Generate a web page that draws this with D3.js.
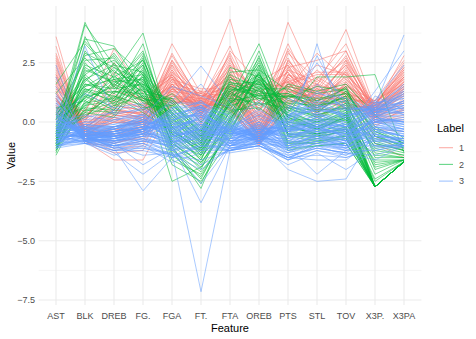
<!DOCTYPE html>
<html lang="en">
<head>
<meta charset="UTF-8">
<script src="https://d3js.org/d3.v7.min.js"></script>
<title>Parallel coordinates</title>
<style>
  body { margin: 0; background: #fff; }
  text { font-family: "Liberation Sans", Arial, sans-serif; }
  .tick-label { fill: #4d4d4d; font-size: 9px; }
  .axis-title { fill: #000; font-size: 11px; }
</style>
</head>
<body>
<svg id="chart" width="476" height="339"></svg>
<script>
// standardized player stats, one row per player, columns follow `features`
const features = ["AST","BLK","DREB","FG.","FGA","FT.","FTA","OREB","PTS","STL","TOV","X3P.","X3PA"];
const labels = ["1","2","3"];
const colors = ["#F8766D","#00BA38","#619CFF"];
const yTicks = [-7.5,-5,-2.5,0,2.5];
const yMinor = [-6.25,-3.75,-1.25,1.25,3.75];

const cluster1 = [
  [3.6,-0.6,0.2,-0.3,2.6,1.0,2.8,-0.5,2.9,1.8,3.3,0.5,2.2],
  [3.2,-0.8,-0.4,0.1,2.2,0.8,2.0,-0.7,2.3,2.6,3.0,0.3,1.6],
  [2.9,-0.4,0.5,0.4,3.3,1.2,4.33,0.2,4.2,1.5,3.9,0.6,2.8],
  [2.5,-0.5,0.1,-0.2,2.0,0.6,1.6,-0.4,2.0,1.2,2.4,0.4,1.9],
  [2.2,-0.3,0.8,0.3,2.8,0.9,3.2,0.4,3.3,0.8,2.6,0.2,1.4],
  [1.9,-0.7,-0.9,-0.6,1.5,1.1,1.0,-0.9,1.4,2.9,1.8,0.7,2.4],
  [1.7,0.2,1.5,0.6,2.4,0.4,2.6,1.1,2.7,0.6,2.0,-0.2,0.6],
  [1.6,-0.6,-0.2,0.0,1.8,1.4,1.4,-0.6,1.9,1.1,1.5,0.9,2.6],
  [1.4,0.4,3.1,1.2,2.0,0.2,3.0,1.7,2.4,0.4,2.2,0.0,0.3],
  [1.3,-0.9,-1.0,-0.8,1.2,0.7,0.8,-1.0,1.1,1.6,1.2,0.8,2.0],
  [1.2,-0.2,0.4,0.2,1.6,0.5,1.3,0.0,1.6,0.9,1.4,0.5,1.3],
  [1.1,0.0,2.5,0.9,1.9,0.1,2.2,1.4,2.1,0.3,1.7,0.1,0.4],
  [1.0,-0.7,-1.2,-1.0,1.0,0.9,0.6,-0.8,0.9,2.2,1.1,0.6,1.7],
  [0.9,-0.4,0.0,-0.1,1.4,0.6,1.1,-0.3,1.4,1.0,1.0,0.4,1.5],
  [0.8,0.3,1.2,0.5,2.2,0.3,1.9,0.8,2.3,0.5,1.6,0.2,0.9],
  [0.7,-0.8,-1.6,-1.6,0.7,1.3,0.5,-0.9,0.7,1.4,0.9,0.8,1.8],
  [0.6,-0.2,0.6,0.3,1.7,0.8,1.7,0.3,1.8,0.7,1.3,0.3,1.1],
  [0.5,-0.5,-0.6,-0.4,1.1,1.0,0.9,-0.6,1.2,1.9,1.2,0.9,2.1],
  [0.4,0.1,1.8,0.8,1.3,-0.2,1.5,1.6,1.5,0.2,1.0,-0.9,-1.5],
  [0.3,-0.6,-0.3,-0.2,1.0,0.7,0.7,-0.5,1.0,1.2,0.8,0.5,1.2],
  [0.2,-0.3,0.3,0.1,0.9,0.4,0.9,0.1,0.9,0.9,0.7,0.3,0.8],
  [2.7,-0.6,0.3,0.2,2.5,0.9,2.4,-0.2,2.6,1.3,2.8,0.4,1.7],
  [2.0,-0.5,-0.5,-0.5,1.7,1.2,1.8,-0.7,1.7,2.1,2.1,0.6,2.3],
  [1.5,0.1,0.9,0.4,2.6,0.5,2.9,0.5,3.0,0.8,2.3,0.1,1.0],
  [0.1,-0.1,0.7,0.5,1.4,0.2,1.2,0.6,1.5,0.3,0.6,0.2,0.5],
  [-0.3,-0.7,-0.8,-0.7,0.8,0.9,0.4,-0.8,0.6,1.6,0.5,0.7,1.4],
  [1.8,-0.4,0.0,0.0,1.3,0.6,1.2,-0.4,1.3,1.0,1.9,0.4,1.1],
  [2.4,-0.8,-0.7,-0.3,2.1,1.1,1.5,-0.8,2.2,1.7,2.6,0.7,2.5],
  [1.1,0.2,1.3,1.0,1.9,-0.1,2.4,1.2,2.1,0.5,1.5,-0.6,-1.2],
  [0.6,-0.6,-1.1,-0.9,0.9,0.8,0.7,-0.9,0.8,1.3,0.9,0.9,1.6],
  [1.4,-0.3,0.2,-0.1,1.6,0.7,1.6,-0.2,1.7,1.1,1.8,0.3,1.3],
  [0.9,-0.1,0.5,0.3,1.2,0.4,1.0,0.2,1.1,0.6,1.1,0.2,0.7],
  [2.1,-0.5,0.6,0.1,2.9,0.8,2.7,-0.1,3.1,1.4,3.0,0.5,2.0],
  [0.4,-0.4,-0.4,-0.3,0.9,0.6,0.6,-0.5,0.9,0.8,0.7,0.6,1.5],
  [1.6,0.0,0.4,0.2,1.5,0.9,1.3,0.0,1.6,0.7,1.6,0.2,0.8],
  [0.7,-0.2,1.0,0.6,1.8,0.3,2.0,0.9,1.9,0.4,1.3,0.0,0.2],
  [2.3,-0.7,-0.3,-0.4,1.4,1.2,1.1,-0.6,1.4,2.4,2.0,0.8,2.2],
  [1.2,-0.5,-0.6,-0.2,1.1,0.6,0.9,-0.7,1.1,1.5,1.4,0.5,1.9],
  [0.3,0.5,2.1,0.7,1.5,0.0,1.8,1.3,1.7,0.1,0.9,-0.3,-0.4],
  [1.0,-0.3,0.1,0.0,1.2,0.5,1.4,-0.3,1.3,0.9,1.2,0.4,1.2],
  [1.3,-0.4,0.3,0.1,1.9,0.9,1.7,-0.2,2.0,1.2,1.7,0.4,1.6],
  [0.8,-0.6,-0.5,-0.3,1.3,1.1,1.2,-0.6,1.3,1.4,1.2,0.6,1.9],
  [2.6,-0.3,0.7,0.5,2.3,0.7,2.1,0.1,2.5,1.0,2.5,0.3,1.5],
  [0.5,0.0,0.9,0.6,1.6,0.4,1.6,0.7,1.8,0.6,1.1,0.1,0.6],
  [1.9,-0.7,-0.8,-0.5,1.6,1.3,1.3,-0.8,1.6,2.0,2.0,0.7,2.3],
  [0.2,-0.5,-0.2,0.0,1.1,0.8,1.0,-0.4,1.1,1.1,0.8,0.5,1.4],
  [1.7,-0.2,0.5,0.3,2.0,0.6,2.3,0.2,2.2,0.9,2.1,0.2,1.2],
  [0.6,0.2,1.6,0.9,1.5,0.1,1.9,1.1,1.7,0.4,1.2,-0.1,0.1],
  [1.0,-0.8,-1.3,-1.2,0.8,1.0,0.6,-1.0,0.7,1.8,1.0,0.8,1.9],
  [2.8,-0.5,0.0,-0.1,1.8,1.0,2.0,-0.5,2.0,1.6,2.7,0.5,1.8],
  [0.0,-0.3,0.4,0.4,1.0,0.5,1.1,0.3,1.2,0.5,0.6,0.4,0.9],
  [1.5,-0.6,-0.4,-0.2,1.4,0.8,1.5,-0.5,1.5,1.3,1.6,0.6,1.7],
  [0.9,0.1,1.1,0.7,2.1,0.3,2.5,0.8,2.4,0.7,1.5,0.0,0.5],
  [2.0,-0.4,0.2,0.0,2.4,1.0,2.2,-0.3,2.6,1.1,2.4,0.5,2.1],
  [0.4,-0.6,-0.9,-0.6,0.7,1.2,0.5,-0.7,0.6,1.0,0.6,0.7,1.3]
];

const cluster2 = [
  [-0.3,4.2,1.8,1.5,0.2,-1.2,1.3,2.0,0.6,0.1,0.8,-2.73,-1.67],
  [-0.6,4.1,2.4,2.1,0.6,-0.9,1.8,1.6,1.0,0.5,1.1,-2.73,-1.67],
  [0.1,3.5,3.2,1.4,0.9,-0.6,2.1,2.2,1.3,0.4,1.3,-0.4,-0.9],
  [-0.9,3.3,2.0,3.75,-0.5,-1.6,1.0,3.3,0.2,-0.4,0.3,-2.73,-1.67],
  [-0.8,3.0,1.5,2.9,-0.2,-1.4,0.8,2.7,0.3,-0.2,0.4,-2.73,-1.67],
  [-0.4,2.8,3.1,2.0,0.4,-0.8,2.3,1.9,0.9,0.6,1.5,-1.5,-1.5],
  [-1.0,2.5,1.2,3.3,-0.8,-2.0,0.5,3.0,-0.2,-0.5,0.0,-2.73,-1.67],
  [-0.7,2.2,1.7,1.8,-0.1,-1.1,1.1,1.5,0.4,0.0,0.6,-1.8,-1.6],
  [0.3,2.0,2.8,1.1,0.8,-0.5,1.6,1.2,1.2,0.8,1.0,-0.6,-1.0],
  [-1.2,1.8,1.0,2.5,-1.0,-2.8,0.2,2.4,-0.5,-0.7,-0.3,-2.73,-1.67],
  [-0.5,1.6,1.4,1.6,0.1,-1.0,1.2,1.8,0.5,-0.1,0.5,-2.2,-1.6],
  [0.5,1.5,2.2,0.9,1.0,-0.3,1.9,0.9,1.5,1.2,1.4,-0.2,-0.8],
  [-1.1,1.4,0.8,2.2,-1.3,-2.6,-0.1,2.1,-0.8,-0.9,-0.5,-2.73,-1.67],
  [-0.2,1.3,1.9,1.3,0.3,-0.7,1.4,1.3,0.7,0.3,0.7,-1.2,-1.4],
  [-0.9,1.2,0.6,2.7,-0.7,-1.8,0.3,2.6,-0.1,-0.6,-0.2,-2.73,-1.67],
  [-0.6,1.1,1.3,1.2,-0.3,-1.3,0.6,1.4,0.0,-0.3,0.2,-2.5,-1.67],
  [0.0,1.0,2.5,0.8,0.5,-0.4,1.5,1.0,0.8,0.7,0.9,-0.8,-1.2],
  [-1.4,0.9,0.3,2.0,-1.6,-2.2,-0.4,1.7,-1.0,-0.8,-0.7,-2.73,-1.67],
  [-0.3,0.8,1.6,1.0,0.2,-0.9,0.9,1.1,0.4,1.9,1.9,2.0,-1.3],
  [-0.8,0.7,0.9,1.7,-0.6,-1.5,0.1,1.9,-0.3,-0.4,-0.1,-1.6,-1.6],
  [0.2,0.6,2.0,0.6,0.7,-0.2,1.2,0.7,1.1,1.0,1.2,-0.3,-0.9],
  [-1.0,0.5,0.4,1.5,-2.5,-1.9,-0.6,1.6,-1.1,-1.0,-0.9,-2.73,-1.67],
  [-0.4,0.4,1.1,0.7,-0.2,-1.0,0.4,0.8,0.1,0.1,0.1,-1.0,-1.3],
  [-0.7,0.3,0.7,1.9,-0.9,-1.7,-0.2,2.3,-0.6,-0.6,-0.4,-2.73,-1.67],
  [0.4,2.6,2.7,1.0,0.6,-0.6,1.7,1.3,1.0,1.5,1.3,-0.5,-1.1],
  [-0.5,3.6,1.4,2.4,0.0,-1.3,1.0,2.0,0.5,0.3,0.6,-2.73,-1.67],
  [-1.3,2.0,0.9,2.8,-1.1,-2.4,0.0,2.8,-0.6,-0.8,-0.6,-2.73,-1.67],
  [0.1,1.7,2.9,1.3,1.0,-0.4,2.0,1.4,1.4,0.9,1.4,-0.9,-1.2],
  [-0.2,1.4,1.1,0.4,-0.4,-1.1,0.5,0.6,-0.2,0.0,0.3,-1.9,-1.6],
  [-0.9,2.3,1.6,3.0,-0.3,-1.6,0.9,2.5,0.2,-0.3,0.2,-2.73,-1.67],
  [0.6,0.9,1.8,0.5,1.2,0.0,1.3,0.5,1.6,1.3,1.6,0.3,-0.7],
  [-0.6,0.5,0.8,1.4,-0.8,-1.4,-0.3,1.5,-0.4,-0.5,-0.3,-1.4,-1.5],
  [-1.1,1.1,0.5,2.3,-1.2,-2.1,-0.5,2.2,-0.9,-0.7,-0.6,-2.73,-1.67],
  [-0.1,2.9,2.3,1.7,0.4,-0.8,1.6,1.7,0.8,0.4,0.9,-2.0,-1.6],
  [-0.4,0.2,1.3,0.9,0.1,-0.6,0.7,1.0,0.3,-0.2,0.2,-0.7,-1.1],
  [-0.8,1.9,0.7,1.1,-0.5,-1.2,0.2,1.2,-0.1,-0.5,-0.2,-2.73,-1.67],
  [1.6,3.4,2.1,1.6,0.8,-0.7,1.4,1.1,1.1,0.7,1.0,-1.1,-1.4],
  [1.2,2.7,1.5,2.6,0.3,-1.0,0.8,1.8,0.6,0.2,0.5,-2.73,-1.67],
  [-0.7,1.5,1.8,2.0,-0.4,-1.1,0.8,1.7,0.2,-0.2,0.3,-2.73,-1.67],
  [0.2,1.2,2.3,1.2,0.9,-0.5,1.5,1.1,1.2,0.6,1.1,-0.6,-1.0],
  [-1.0,0.8,1.0,2.4,-1.0,-1.9,0.1,2.0,-0.5,-0.6,-0.4,-2.73,-1.67],
  [-0.5,2.1,2.6,1.5,0.3,-0.9,1.3,1.6,0.7,0.2,0.8,-1.3,-1.5],
  [-1.2,0.6,0.5,1.8,-1.4,-2.3,-0.3,1.8,-0.9,-0.9,-0.7,-2.73,-1.67],
  [0.0,1.0,1.5,0.9,0.4,-0.6,1.0,0.8,0.6,0.5,0.6,-0.9,-1.2],
  [-0.6,2.4,1.9,2.6,-0.2,-1.4,0.7,2.4,0.1,-0.3,0.1,-2.73,-1.67],
  [-0.3,0.7,1.7,1.1,0.0,-0.8,0.8,1.2,0.3,0.0,0.4,-1.7,-1.6],
  [-0.9,1.3,0.9,2.1,-0.9,-1.7,0.0,2.1,-0.5,-0.5,-0.3,-2.73,-1.67],
  [0.3,1.8,2.4,1.0,0.7,-0.4,1.7,1.0,1.1,0.9,1.2,-0.4,-0.9],
  [-0.4,1.6,1.2,1.9,-0.5,-1.2,0.4,1.9,0.0,-0.2,0.1,-2.4,-1.67],
  [-1.1,0.4,0.2,1.6,-1.8,-2.5,-0.7,1.4,-1.2,-1.0,-0.9,-2.73,-1.67]
];

const cluster3 = [
  [-0.2,-0.5,-0.6,-0.3,-0.5,0.2,-0.7,-0.5,-0.6,-0.3,-0.5,0.3,0.2],
  [0.3,-0.7,-0.9,-0.6,-0.2,0.5,-0.5,-0.8,-0.3,0.1,-0.2,0.6,0.8],
  [-0.8,-0.4,-0.3,0.2,-0.9,-0.2,-0.9,-0.1,-1.0,-0.7,-0.9,-0.3,-0.6],
  [2.4,-0.8,-0.5,-0.4,0.6,0.8,0.2,-0.7,0.4,1.2,1.0,0.5,0.9],
  [-0.5,3.2,0.3,0.6,-0.4,-0.6,-0.3,0.4,-0.4,-0.2,-0.6,-0.5,-0.8],
  [-0.6,-0.6,-1.1,-2.9,-1.5,-1.0,-1.1,-1.0,-1.6,-0.8,-1.2,-1.2,-0.9],
  [-0.9,-0.8,-1.3,-2.2,-1.3,-7.15,-1.2,-1.0,-1.5,-1.0,-1.1,-0.6,-0.7],
  [-0.4,-0.3,-0.7,-0.8,-1.0,-3.4,-1.0,-0.6,-1.1,-0.5,-0.8,0.1,-0.2],
  [0.1,-0.6,-0.4,0.0,0.9,2.36,0.8,-0.5,0.7,0.3,0.2,0.8,1.1],
  [-0.3,-0.2,-0.2,-0.1,-0.6,-0.4,-0.6,-0.3,-0.7,3.3,-0.5,0.0,-0.1],
  [0.5,-0.7,-0.8,-0.5,0.3,0.6,-0.2,-0.9,0.1,2.8,0.5,0.7,3.67],
  [-0.7,-0.5,-1.0,-0.9,-1.2,-0.5,-1.1,-0.8,-2.0,-2.5,-2.4,-0.4,-0.6],
  [0.0,-0.4,-0.5,-0.2,-0.3,0.3,-0.4,-0.4,-0.4,0.4,-0.3,1.3,3.0],
  [1.9,-0.9,-0.6,-0.5,0.4,0.9,0.0,-0.7,0.3,0.9,0.7,0.4,1.4],
  [-1.1,-0.3,-0.8,-0.7,-1.4,-1.6,-1.2,-0.6,-1.4,-1.1,-1.3,-1.6,-1.0],
  [-0.2,0.2,0.4,0.5,-0.6,-0.8,-0.3,0.6,-0.5,-0.6,-0.7,-0.7,-0.9],
  [0.6,-0.8,-0.9,-0.3,0.1,0.4,-0.3,-0.9,0.0,0.6,0.2,0.6,1.2],
  [-0.6,-0.6,-0.7,-0.4,-0.8,0.0,-0.8,-0.6,-0.9,-0.4,-0.8,0.2,0.0],
  [-1.0,-0.9,-1.2,-1.2,-1.5,-0.9,-1.2,-1.0,-1.6,-1.2,-1.4,-0.9,-1.0],
  [0.2,-0.5,-0.3,0.1,-0.1,0.1,-0.4,-0.3,-0.2,0.2,-0.1,0.3,0.5],
  [-0.4,0.0,-0.1,0.3,-0.7,-0.6,-0.5,0.2,-0.7,-0.3,-0.6,-0.2,-0.5],
  [1.2,-0.7,-0.6,-0.6,0.2,0.7,-0.1,-0.8,0.1,1.6,0.5,0.6,1.6],
  [-0.8,-0.4,-0.9,-1.8,-1.1,-2.6,-1.0,-0.7,-1.3,-0.9,-1.0,-0.8,-0.7],
  [-0.3,-0.6,-0.4,-0.2,-0.4,0.4,-0.6,-0.5,-0.5,0.0,-0.4,0.5,0.6],
  [0.4,-0.8,-0.7,-0.4,0.5,1.6,0.1,-0.8,0.3,0.5,0.3,0.9,2.4],
  [-0.9,-0.2,-0.5,0.4,-1.0,-1.2,-0.9,0.0,-1.1,-0.8,-1.0,-1.0,-1.1],
  [-0.5,-0.7,-1.0,-0.7,-0.9,-0.2,-1.0,-0.9,-1.0,-2.2,-1.2,0.0,-0.3],
  [0.8,-0.6,-0.4,-0.1,0.2,0.5,-0.2,-0.6,0.0,0.7,0.3,0.4,0.9],
  [-0.1,-0.3,-0.2,0.0,-0.2,-0.1,-0.5,-0.2,-0.3,-0.1,-0.4,0.1,0.1],
  [-0.7,-0.8,-1.1,-0.8,-1.2,-0.7,-1.1,-0.9,-1.3,-0.6,-1.1,-0.4,-0.5],
  [0.0,0.3,0.0,0.6,-0.3,-0.5,-0.2,0.5,-0.2,-0.4,-0.3,-0.6,-0.7],
  [-1.1,-0.9,-1.4,-1.0,-1.7,-1.3,-1.3,-1.1,-1.8,-1.3,-2.0,-1.2,-1.0],
  [1.5,-0.6,-0.8,-0.3,0.6,0.6,0.3,-0.7,0.5,2.5,0.8,0.3,1.3],
  [-0.3,-0.4,-0.6,-0.5,-0.5,0.3,-0.7,-0.4,-0.6,0.1,-0.5,0.6,0.4],
  [-0.6,-0.1,-0.3,0.1,-0.8,-0.9,-0.7,-0.1,-0.8,-0.5,-0.8,-0.5,-0.8],
  [0.3,-0.7,-0.6,-0.3,0.0,0.9,-0.3,-0.7,-0.1,0.3,0.0,0.8,1.0],
  [-0.9,-0.5,-0.8,-0.6,-1.1,-0.4,-1.0,-0.6,-1.2,-0.9,-1.1,-0.2,-0.4],
  [0.7,-0.8,-0.2,0.2,1.5,1.1,0.6,-0.4,1.0,0.4,0.6,0.5,1.1],
  [-0.2,-0.2,0.5,0.7,-0.4,-0.7,-0.1,0.8,-0.3,-0.3,-0.4,-1.0,-1.0],
  [-0.5,-0.6,-0.9,-0.5,-0.9,0.1,-0.9,-0.7,-1.0,-0.6,-0.9,0.2,-0.1],
  [0.1,-0.5,-0.4,-0.2,-0.1,0.0,-0.5,-0.4,-0.3,0.0,-0.2,0.4,0.6],
  [-1.0,-0.7,-1.0,-1.4,-1.3,-1.8,-1.2,-0.8,-1.5,-1.1,-1.3,-1.4,-1.0],
  [-0.4,-0.3,-0.3,-0.1,-0.6,-0.3,-0.6,-0.3,-0.6,-0.2,-0.6,-0.1,-0.3],
  [0.9,-0.9,-0.7,-0.5,0.1,0.4,-0.4,-0.8,-0.1,1.1,0.2,0.7,1.5],
  [-0.7,-0.4,-0.6,-0.4,-1.0,-0.6,-0.9,-0.5,-1.1,-0.7,-1.0,0.0,-0.2],
  [-0.1,0.1,0.2,0.3,-0.2,-0.3,-0.2,0.3,-0.2,-0.2,-0.3,-0.3,-0.4],
  [-0.8,-0.8,-1.2,-0.9,-1.4,-1.1,-1.2,-1.0,-1.5,-1.6,-1.6,-0.7,-0.8],
  [0.5,-0.6,-0.5,-0.2,0.4,0.2,-0.1,-0.6,0.2,0.5,0.4,0.2,0.7],
  [-0.3,-0.7,-0.8,-0.6,-0.7,0.6,-0.8,-0.7,-0.8,-0.1,-0.7,0.9,0.3],
  [-0.6,-0.3,-0.4,-0.3,-0.9,-0.2,-0.8,-0.3,-0.9,-0.6,-0.9,-0.3,-0.6],
  [0.2,-0.4,0.1,0.2,0.0,-0.1,-0.3,0.1,0.0,-0.1,-0.2,0.0,0.2],
  [-1.0,-0.6,-1.1,-1.1,-1.4,-2.0,-1.1,-0.9,-1.5,-1.4,-1.5,-1.1,-0.9],
  [1.0,-0.5,-0.3,0.0,0.8,0.8,0.4,-0.5,0.6,0.6,0.9,0.4,0.8],
  [-0.5,-0.9,-1.0,-0.7,-1.0,-0.1,-1.0,-0.8,-1.1,-0.8,-1.0,0.3,0.0],
  [-0.2,-0.1,-0.2,0.1,-0.3,0.2,-0.4,0.0,-0.4,0.2,-0.4,0.2,0.3],
  [-0.9,-0.2,-0.6,0.0,-1.2,-1.0,-1.0,-0.2,-1.2,-0.9,-1.2,-0.8,-0.9],
  [0.4,-0.7,-0.6,-0.4,0.2,0.3,-0.2,-0.7,0.1,0.8,0.1,0.5,0.7],
  [-0.4,-0.5,-0.7,-0.5,-0.6,-0.3,-0.7,-0.6,-0.7,-0.4,-0.7,0.1,0.0],
  [0.0,1.2,0.6,0.8,-0.2,-0.4,0.1,0.9,-0.1,-0.2,-0.1,-0.8,-0.9],
  [-0.7,-0.7,-1.0,-0.8,-0.8,0.7,-0.9,-0.8,-0.9,0.3,-0.8,1.1,0.5],
  [-0.5,-0.4,-0.5,-0.3,-0.7,0.0,-0.7,-0.4,-0.8,-0.3,-0.7,0.2,0.0],
  [0.2,-0.6,-0.6,-0.3,-0.1,0.4,-0.4,-0.6,-0.2,0.3,-0.1,0.5,0.7],
  [-0.8,-0.6,-0.9,-0.7,-1.1,-0.6,-1.0,-0.7,-1.2,-0.8,-1.1,-0.3,-0.6],
  [-0.3,-0.2,-0.3,0.0,-0.5,-0.3,-0.5,-0.2,-0.6,-0.3,-0.5,-0.2,-0.3],
  [0.6,-0.7,-0.5,-0.2,0.3,0.6,-0.1,-0.7,0.2,0.6,0.3,0.6,1.0],
  [-1.0,-0.8,-1.1,-1.0,-1.4,-1.0,-1.2,-0.9,-1.5,-1.0,-1.4,-0.6,-0.8],
  [-0.1,-0.5,-0.4,-0.2,-0.3,0.2,-0.5,-0.5,-0.4,0.0,-0.3,0.4,0.4],
  [-0.6,-0.1,-0.2,0.2,-0.8,-0.7,-0.7,0.0,-0.9,-0.6,-0.8,-0.6,-0.7],
  [0.4,-0.8,-0.8,-0.5,0.0,0.7,-0.4,-0.8,-0.1,0.9,0.1,0.7,1.3],
  [-0.7,-0.5,-0.7,-0.5,-0.9,-0.4,-0.9,-0.6,-1.0,-0.5,-0.9,0.0,-0.3],
  [-0.2,-0.3,-0.1,0.1,-0.4,-0.1,-0.4,-0.1,-0.4,-0.2,-0.5,0.0,0.1],
  [1.1,-0.8,-0.7,-0.4,0.3,0.7,-0.1,-0.8,0.2,1.3,0.6,0.5,1.2],
  [-0.9,-0.3,-0.7,-0.3,-1.2,-0.8,-1.0,-0.4,-1.3,-1.0,-1.2,-0.7,-0.9],
  [-0.4,-0.7,-0.8,-0.6,-0.6,0.3,-0.8,-0.7,-0.7,-0.2,-0.6,0.6,0.3],
  [0.0,-0.4,-0.2,0.0,-0.2,0.1,-0.3,-0.3,-0.2,0.1,-0.2,0.3,0.4],
  [-0.6,-0.8,-1.0,-0.8,-1.0,-0.3,-1.0,-0.9,-1.1,-0.7,-1.0,-0.1,-0.4],
  [-1.1,-0.6,-1.0,-0.9,-1.5,-1.2,-1.2,-0.8,-1.6,-1.2,-1.5,-1.0,-1.0],
  [0.3,-0.5,-0.4,-0.1,0.1,0.3,-0.3,-0.4,0.0,0.4,0.0,0.4,0.6],
  [-0.3,0.0,0.1,0.3,-0.5,-0.5,-0.4,0.3,-0.5,-0.4,-0.5,-0.4,-0.6],
  [-0.5,-0.6,-0.6,-0.4,-0.8,-0.1,-0.8,-0.6,-0.9,-0.4,-0.8,0.1,-0.1],
  [0.8,-0.7,-0.6,-0.3,0.5,0.5,0.1,-0.7,0.3,0.7,0.5,0.3,0.9],
  [-0.8,-0.9,-1.2,-1.1,-1.3,-0.8,-1.2,-1.0,-1.4,-1.1,-1.3,-0.5,-0.7],
  [-0.1,-0.2,-0.4,-0.2,-0.3,-0.2,-0.5,-0.3,-0.4,-0.1,-0.4,0.1,0.0],
  [-0.7,-0.4,-0.5,-0.2,-1.0,-0.5,-0.8,-0.4,-1.0,-0.6,-1.0,-0.2,-0.4],
  [0.1,-0.6,-0.5,-0.3,-0.1,0.5,-0.5,-0.5,-0.3,0.2,-0.2,0.7,0.8]
];

const svg = d3.select("#chart");
const panel = {left: 38.6, right: 421.4, top: 6, bottom: 305};

const x = d3.scalePoint().domain(features).range([panel.left, panel.right]).padding(0.6);
const y = d3.scaleLinear().domain([-7.71, 4.89]).range([panel.bottom, panel.top]);

// grid
const grid = svg.append("g");
grid.selectAll(".minor").data(yMinor).join("line")
  .attr("x1", panel.left).attr("x2", panel.right)
  .attr("y1", d => y(d)).attr("y2", d => y(d))
  .attr("stroke", "#ebebeb").attr("stroke-width", 0.55);
grid.selectAll(".major").data(yTicks).join("line")
  .attr("x1", panel.left).attr("x2", panel.right)
  .attr("y1", d => y(d)).attr("y2", d => y(d))
  .attr("stroke", "#ebebeb").attr("stroke-width", 1.07);
grid.selectAll(".vmajor").data(features).join("line")
  .attr("x1", d => x(d)).attr("x2", d => x(d))
  .attr("y1", panel.top).attr("y2", panel.bottom)
  .attr("stroke", "#ebebeb").attr("stroke-width", 1.07);

// lines, one per player
const line = d3.line().x((v, i) => x(features[i])).y(v => y(v));
const groups = [cluster1, cluster2, cluster3];
const lines = svg.append("g").attr("fill", "none");
groups.forEach((rows, gi) => {
  lines.append("g")
    .selectAll("path").data(rows).join("path")
    .attr("d", line)
    .attr("stroke", colors[gi])
    .attr("stroke-width", 0.9)
    .attr("stroke-opacity", 0.6);
});

// axes labels
svg.append("g").selectAll("text").data(yTicks).join("text")
  .attr("class", "tick-label")
  .attr("x", 35).attr("y", d => y(d) + 3.2)
  .attr("text-anchor", "end")
  .text(d => d3.format(".1f")(d));
svg.append("g").selectAll("text").data(features).join("text")
  .attr("class", "tick-label")
  .attr("x", d => x(d)).attr("y", 318.5)
  .attr("text-anchor", "middle")
  .text(d => d);

svg.append("text").attr("class", "axis-title")
  .attr("x", (panel.left + panel.right) / 2).attr("y", 331.5)
  .attr("text-anchor", "middle").text("Feature");
svg.append("text").attr("class", "axis-title")
  .attr("transform", "translate(14.5," + ((panel.top + panel.bottom) / 2) + ") rotate(-90)")
  .attr("text-anchor", "middle").text("Value");

// legend
const legend = svg.append("g").attr("transform", "translate(437,0)");
legend.append("text").attr("class", "axis-title")
  .attr("x", 0).attr("y", 132).text("Label");
labels.forEach((lab, i) => {
  const cy = 147.7 + i * 16.7;
  legend.append("line")
    .attr("x1", 2).attr("x2", 16).attr("y1", cy).attr("y2", cy)
    .attr("stroke", colors[i]).attr("stroke-width", 1.1).attr("stroke-opacity", 0.6);
  legend.append("text").attr("class", "tick-label")
    .attr("x", 22).attr("y", cy + 3.2).text(lab);
});
</script>
</body>
</html>
